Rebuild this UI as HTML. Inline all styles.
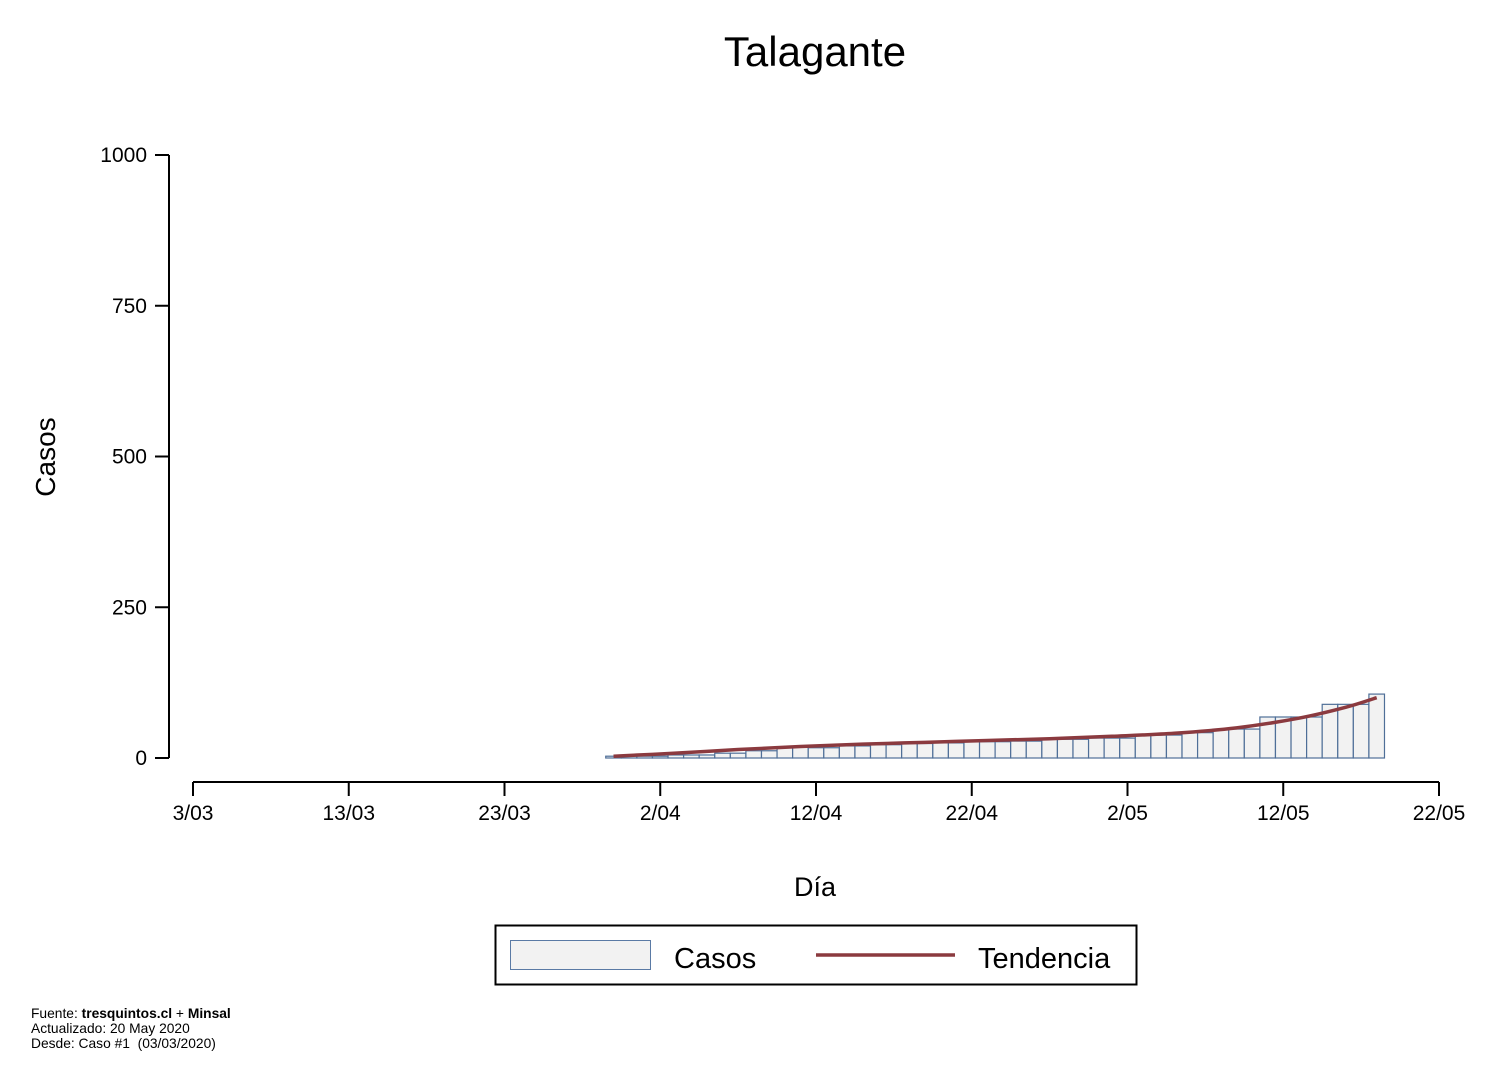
<!DOCTYPE html>
<html><head><meta charset="utf-8"><style>
body{margin:0;background:#fff;}
svg{display:block;font-family:"Liberation Sans",sans-serif;}
</style></head><body>
<svg id="chart" width="1488" height="1082" viewBox="0 0 1488 1082">
<text x="815" y="66" font-size="42" text-anchor="middle">Talagante</text>
<g id="yaxis"></g>
<g id="xaxis"></g>
<g id="bars"></g>
<path id="trend" fill="none" stroke="#8b3a3f" stroke-width="3.5"/>
<text transform="translate(55,457) rotate(-90)" font-size="28" text-anchor="middle">Casos</text>
<text x="815" y="896" font-size="27" text-anchor="middle">Día</text>
<g>
<rect x="495.5" y="925.5" width="641" height="59" fill="#fff" stroke="#000" stroke-width="2"/>
<rect x="510.5" y="940.5" width="140" height="29" fill="#f2f2f2" stroke="#5a7aa5" stroke-width="1"/>
<text x="674" y="968" font-size="29">Casos</text>
<line x1="816" y1="955" x2="955" y2="955" stroke="#8b3a3f" stroke-width="3.5"/>
<text x="978" y="968" font-size="29">Tendencia</text>
</g>
<g font-size="13.8">
<text x="31" y="1018">Fuente: <tspan font-weight="bold">tresquintos.cl</tspan> + <tspan font-weight="bold">Minsal</tspan></text>
<text x="31" y="1033">Actualizado: 20 May 2020</text>
<text x="31" y="1048">Desde: Caso #1 &#160;(03/03/2020)</text>
</g>
</svg>
<script>
const yTicks=[0,250,500,750,1000];
const xTickLabels=["3/03","13/03","23/03","2/04","12/04","22/04","2/05","12/05","22/05"];
const xTickDays=[0,10,20,30,40,50,60,70,80];
const barStartDay=27;
const barValues=[3,3,3,3,5,5,5,8,8,12,12,18,18,17,17,20,20,22,22,24,24,25,25,27,27,27,28,28,31,31,31,33,33,33,38,38,38,42,42,48,48,48,68,68,68,68,89,89,89,106];
const trendDays=[27,31,35,39,43,47,51,55,59,63,67,71,74,76];
const trendValues=[3,8,14,19,23,26,29,32,36,41,50,66,84,100];
const NS="http://www.w3.org/2000/svg";
const x=d=>193+d*(1439-193)/80;
const y=v=>758-v*(758-155)/1000;
function mk(tag,attrs,parent){const e=document.createElementNS(NS,tag);for(const k in attrs)e.setAttribute(k,attrs[k]);parent.appendChild(e);return e;}
const ya=document.getElementById('yaxis');
mk('line',{x1:169,y1:y(0),x2:169,y2:y(1000),stroke:'#000','stroke-width':2},ya);
yTicks.forEach(t=>{
 const l=mk('line',{x1:155,y1:y(t),x2:169,y2:y(t),stroke:'#000','stroke-width':2},ya);
 
 
 const tx=mk('text',{x:147,y:y(t)+7,'font-size':21,'text-anchor':'end'},ya);
 tx.textContent=t;
 
 
});
const xa=document.getElementById('xaxis');
mk('line',{x1:x(0),y1:782,x2:x(80),y2:782,stroke:'#000','stroke-width':2},xa);
xTickDays.forEach((d,i)=>{
 const l=mk('line',{x1:x(d),y1:782,x2:x(d),y2:796,stroke:'#000','stroke-width':2},xa);
 
 
 const tx=mk('text',{x:x(d),y:820,'font-size':21,'text-anchor':'middle'},xa);
 tx.textContent=xTickLabels[i];
 
 
});
const bg=document.getElementById('bars');
const w=(1439-193)/80;
barValues.forEach((v,i)=>{
 const d=barStartDay+i;
 const r=mk('rect',{x:x(d)-w/2,y:y(v),width:w,height:y(0)-y(v),fill:'#f2f2f2',stroke:'#4f6f98','stroke-width':1.2},bg);
 
 
});
const pts=trendDays.map((d,i)=>[x(d),y(trendValues[i])]);
let p='M'+pts[0][0]+','+pts[0][1];
for(let i=0;i<pts.length-1;i++){
 const p0=pts[Math.max(0,i-1)],p1=pts[i],p2=pts[i+1],p3=pts[Math.min(pts.length-1,i+2)];
 const c1=[p1[0]+(p2[0]-p0[0])/6,p1[1]+(p2[1]-p0[1])/6];
 const c2=[p2[0]-(p3[0]-p1[0])/6,p2[1]-(p3[1]-p1[1])/6];
 p+=` C${c1[0]},${c1[1]} ${c2[0]},${c2[1]} ${p2[0]},${p2[1]}`;
}
document.getElementById('trend').setAttribute('d',p);
</script>
</body></html>
